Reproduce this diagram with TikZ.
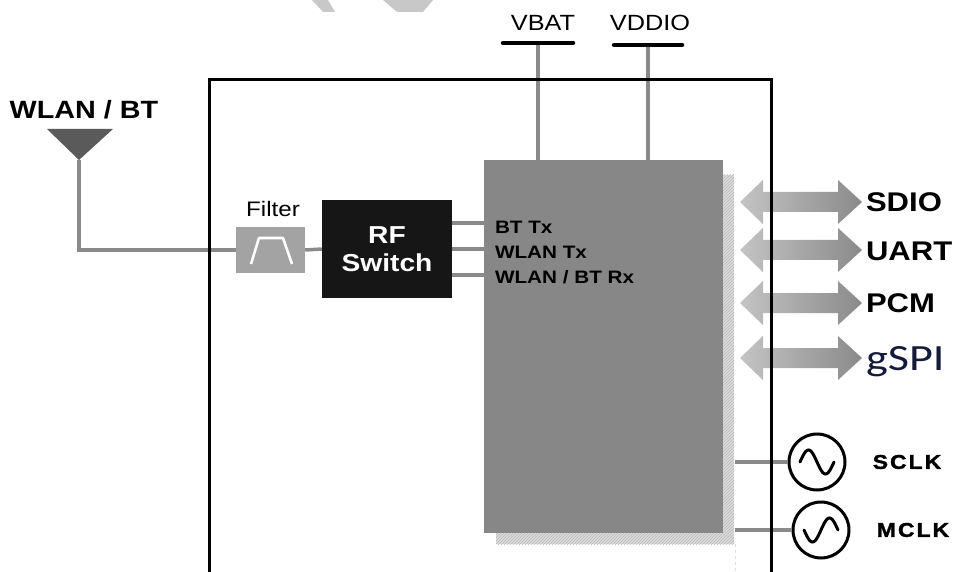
\documentclass[tikz,border=0pt]{standalone}
\usepackage{fontspec}
\setmainfont[FakeStretch=1.15]{Liberation Sans}
\newfontfamily\clkfont[FakeStretch=1.15,LetterSpace=10,FakeBold=1.5]{Liberation Sans}
\newfontfamily\gspifont{Carlito}
\usetikzlibrary{patterns,calc}
\definecolor{wiregray}{HTML}{8A8A8A}
\definecolor{antgray}{HTML}{5A5A5A}
\definecolor{filtgray}{HTML}{A3A3A3}
\definecolor{rfblack}{HTML}{161616}
\definecolor{chipgray}{HTML}{878787}
\definecolor{shadowgray}{HTML}{DCDCDC}
\definecolor{wmgray}{HTML}{C8C8C8}
\definecolor{arrowlight}{HTML}{C4C4C4}
\definecolor{arrowdark}{HTML}{8A8A8A}
\definecolor{gspiblue}{RGB}{22,26,58}
\begin{document}
\begin{tikzpicture}[x=1pt,y=-1pt,
  wire/.style={draw=wiregray,line width=3.5pt},
  bar/.style={draw=black,line width=4.5pt,line cap=round},
  txt/.style={inner sep=0pt,outer sep=0pt},
  filterbox/.style={fill=filtgray,minimum width=69pt,minimum height=46pt,inner sep=0pt},
  rfbox/.style={fill=rfblack,text=white,font=\bfseries\fontsize{24.5}{28}\selectfont,align=center,minimum width=130pt,minimum height=98pt,inner sep=0pt},
  chipbox/.style={fill=chipgray,minimum width=239pt,minimum height=373pt,inner sep=0pt},
  clk/.style={circle,draw=black,line width=3pt,minimum size=56pt,inner sep=0pt},
  iflabel/.style={txt,anchor=west,font=\bfseries\fontsize{27}{30}\selectfont},
  siglabel/.style={txt,anchor=west,font=\bfseries\fontsize{18}{20}\selectfont},
  clklabel/.style={txt,font=\clkfont\bfseries\fontsize{20}{22}\selectfont},
  vlabel/.style={txt,font=\fontsize{22}{24}\selectfont}
]
\useasboundingbox (0,0) rectangle (956,572);
\fill[white] (0,0) rectangle (956,572);

% watermark fragments
\fill[wmgray] (312,0) -- (328,0) -- (335,12) -- (323,12) -- cycle;
\fill[wmgray] (383,0) -- (433,0) -- (423,12) -- (397,12) -- cycle;

% antenna
\fill[antgray] (47,129) -- (113,129) -- (79,160) -- cycle;
\coordinate (ant) at (79,160);
\node[txt,font=\bfseries\fontsize{25}{28}\selectfont] (wlanbt) at (84,110) {WLAN / BT};

% filter
\node[filterbox] (filter) at (270.5,250) {};
\draw[white,line width=2.6pt,line join=round] (251,264) -- (259,238) -- (283,238) -- (292,264);
\node[txt,font=\fontsize{21}{24}\selectfont] (filtlbl) at (273,209) {Filter};

% RF switch
\node[rfbox] (rf) at (387,249) {RF\\Switch};

% chip shadow and chip
\fill[shadowgray] (496,175) rectangle (734,544);
\fill[pattern=north east lines,pattern color=gray!55] (496,175) rectangle (734,544);
\draw[gray!25,dashed,line width=0.6pt] (735,544) -- (735,572);
\node[chipbox] (chip) at (603.5,346.5) {};

% wires
\draw[wire] (ant) |- (filter.west);
\draw[wire] (filter.east) -- (rf.west);
\path ([yshift=26pt]rf.east) coordinate (rfa)
      (rf.east) coordinate (rfb)
      ([yshift=-26pt]rf.east) coordinate (rfc);
\draw[wire] (rfa) -- (rfa -| chip.west);
\draw[wire] (rfb) -- (rfb -| chip.west);
\draw[wire] (rfc) -- (rfc -| chip.west);

\node[siglabel] (bttx) at (495,227) {BT Tx};
\node[siglabel] (wlantx) at (495,252) {WLAN Tx};
\node[siglabel] (rx) at (495,277) {WLAN / BT Rx};

% supplies
\node[vlabel] (vbatlbl) at (543,23) {VBAT};
\node[vlabel] (vddiolbl) at (650,23) {VDDIO};
\coordinate (vbat) at (538,43);
\coordinate (vddio) at (648,45);
\draw[wire] (vbat) -- (vbat |- chip.north);
\draw[wire] (vddio) -- (vddio |- chip.north);
\draw[bar] (503,43) -- (573,43);
\draw[bar] (614,45) -- (682,45);

% interface arrows
\foreach \y in {202,250,303,358}{
  \shade[left color=arrowlight,right color=arrowdark]
    (740,\y) -- (763,\y-22) -- (763,\y-10) -- (838,\y-10) -- (838,\y-22)
    -- (862,\y) -- (838,\y+22) -- (838,\y+10) -- (763,\y+10) -- (763,\y+22) -- cycle;
}
\node[iflabel] (sdio) at (866,202) {SDIO};
\node[iflabel] (uart) at (866,251) {UART};
\node[iflabel] (pcm) at (866,303) {PCM};
\node[txt,anchor=base west,text=gspiblue,font=\gspifont\fontsize{37}{40}\selectfont] (gspi) at (866,370) {\scalebox{1.25}[1]{gSPI}};

% clocks
\node[clk] (sclk) at (817,462) {};
\node[clk] (mclk) at (821,530) {};
\coordinate (s1) at (735,462);
\coordinate (m1) at (735,530);
\draw[wire] (s1) -- (sclk.west);
\draw[wire] (m1) -- (mclk.west);
\draw[line width=3pt,line cap=round] plot[domain=-1:1,samples=41,smooth] ({817+17*\x},{462+12*sin(\x*180)});
\draw[line width=3pt,line cap=round] plot[domain=-1:1,samples=41,smooth] ({821+17*\x},{530-12*sin(\x*180)});
\node[clklabel] (sclklbl) at (907,462) {SCLK};
\node[clklabel] (mclklbl) at (913,530) {MCLK};

% outer module outline
\draw[line width=3pt] (209,575) -- (209,80) -- (771,80) -- (771,575);
\end{tikzpicture}
\end{document}
